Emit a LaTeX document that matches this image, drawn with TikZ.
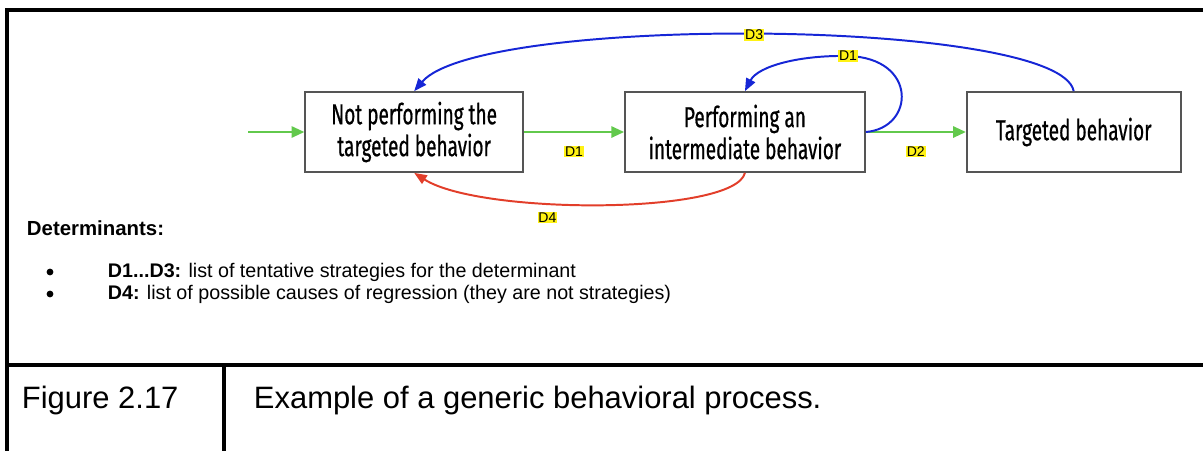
\documentclass[tikz,border=0pt]{standalone}
\usepackage{fontspec}
\setmainfont{Liberation Sans}
\newfontfamily\boxfont[FakeStretch=0.66,FakeBold=0.6]{Fira Sans}
\usetikzlibrary{arrows.meta}
\definecolor{flowgreen}{RGB}{98,201,76}
\definecolor{loopblue}{RGB}{22,38,214}
\definecolor{backred}{RGB}{226,62,42}
\definecolor{hlyellow}{RGB}{255,242,20}
\definecolor{boxgray}{RGB}{85,85,85}
\tikzset{
  dlabel/.style={fill=hlyellow,inner sep=0.6pt,font=\fontsize{10}{11}\selectfont},
  flow/.style={draw=flowgreen,line width=1.4pt,-{Triangle[length=9pt,width=8pt]}},
  loop/.style={draw=loopblue,line width=1.4pt,-{Triangle[length=9pt,width=7pt]}},
  regress/.style={draw=backred,line width=1.4pt,-{Triangle[length=9pt,width=7pt]}},
  frame/.style={line width=2.2pt,line cap=rect},
  bulletdot/.style={circle,fill,inner sep=0pt,minimum size=0.17cm},
  itemtext/.style={anchor=west,font=\fontsize{14}{16}\selectfont},
}
\begin{document}
\begin{tikzpicture}[x=0.025cm,y=-0.025cm]
\useasboundingbox (0,0) rectangle (1203,450);
\draw[frame] (7,450) -- (7,10) -- (1210,10);
\draw[frame] (7,365) -- (1210,365);
\draw[frame] (224,365) -- (224,450);
\matrix (proc) [anchor=west,inner sep=0pt,column sep=2.5cm,
  nodes={draw=boxgray,line width=1.2pt,minimum height=2cm,align=center,
    font=\boxfont\fontsize{20.5}{22.7}\selectfont}] at (304,132) {
  \node[minimum width=5.45cm] (notperf) {Not performing the\\targeted behavior};
 &\node[minimum width=6cm] (interm) {Performing an\\intermediate behavior};
 &\node[minimum width=5.35cm] (target) {Targeted behavior};\\
};
\coordinate (start) at (248,132);
\draw[flow] (start) -- (notperf.west);
\draw[flow] (notperf.east) -- node[dlabel,below=9pt] {D1} (interm.west);
\draw[flow] (interm.east) -- node[dlabel,below=9pt] {D2} (target.west);
\draw[loop] (target.north) .. controls (1060,18) and (480,14) .. node[dlabel,pos=0.51] {D3} (notperf.north);
\draw[loop] (interm.east) .. controls (915,128) and (918,58) .. (848,56)
  node[dlabel] {D1} .. controls (800,55) and (758,66) .. (interm.north);
\draw[regress] (interm.south) .. controls (735,215) and (480,215) .. node[dlabel,pos=0.62,below=6pt] {D4} (notperf.south);
\node[anchor=west,font=\bfseries\fontsize{14.5}{16}\selectfont] (detlabel) at (22,228) {Determinants:};
\node[bulletdot] (bulleta) at (50,272) {};
\node[itemtext] (itema) at (103,272) {\textbf{D1...D3:} list of tentative strategies for the determinant};
\node[bulletdot] (bulletb) at (50,294) {};
\node[itemtext] (itemb) at (103,294) {\textbf{D4:} list of possible causes of regression (they are not strategies)};
\node[anchor=west,font=\fontsize{22}{26}\selectfont] (fignum) at (17,400) {Figure 2.17};
\node[anchor=west,font=\fontsize{22}{26}\selectfont] (figcap) at (249,400) {Example of a generic behavioral process.};
\end{tikzpicture}
\end{document}
